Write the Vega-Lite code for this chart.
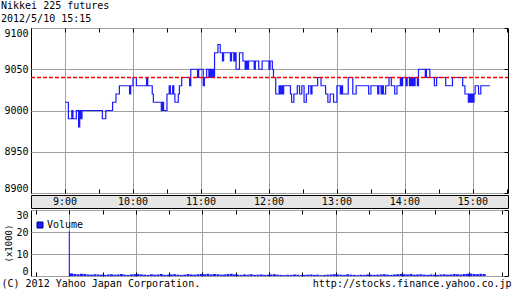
{
  "$schema": "https://vega.github.io/schema/vega-lite/v6.json",
  "padding": {"left": 0, "top": 0, "right": 0, "bottom": 0},
  "background": "white",
  "spacing": 0,
  "resolve": {"legend": {"color": "independent"}},
  "vconcat": [
    {
      "width": 477,
      "height": 165,
      "title": {"text": "Nikkei 225 futures", "subtitle": "2012/5/10 15:15", "anchor": "start", "frame": "group", "dx": -30, "offset": 4, "font": "DejaVu Sans Mono", "fontSize": 10, "fontWeight": "normal", "color": "black", "subtitleFont": "DejaVu Sans Mono", "subtitleFontSize": 10, "subtitleColor": "black", "subtitlePadding": 3},
      "view": {"stroke": "black", "fill": "white"},
      "resolve": {"axis": {"x": "independent", "y": "independent"}},
      "layer": [
        {
          "data": {"values": [
            {"t": "09:00", "p": 9010}, {"t": "09:03", "p": 8990}, {"t": "09:06", "p": 9000}, {"t": "09:07", "p": 8990}, {"t": "09:10", "p": 9000}, {"t": "09:12", "p": 8980}, {"t": "09:13", "p": 9000}, {"t": "09:14", "p": 8990}, {"t": "09:15", "p": 9000}, {"t": "09:33", "p": 8990}, {"t": "09:36", "p": 9000}, {"t": "09:42", "p": 9010}, {"t": "09:45", "p": 9020}, {"t": "09:48", "p": 9030}, {"t": "09:57", "p": 9020}, {"t": "09:58", "p": 9030},
            {"t": "10:00", "p": 9040}, {"t": "10:03", "p": 9030}, {"t": "10:12", "p": 9040}, {"t": "10:13", "p": 9030}, {"t": "10:17", "p": 9020}, {"t": "10:18", "p": 9010}, {"t": "10:25", "p": 9000}, {"t": "10:26", "p": 9010}, {"t": "10:27", "p": 9000}, {"t": "10:30", "p": 9020}, {"t": "10:32", "p": 9030}, {"t": "10:33", "p": 9020}, {"t": "10:35", "p": 9030}, {"t": "10:36", "p": 9020}, {"t": "10:37", "p": 9010}, {"t": "10:40", "p": 9020}, {"t": "10:41", "p": 9030}, {"t": "10:43", "p": 9040}, {"t": "10:50", "p": 9030}, {"t": "10:51", "p": 9050}, {"t": "10:57", "p": 9040}, {"t": "10:58", "p": 9050},
            {"t": "11:02", "p": 9030}, {"t": "11:03", "p": 9040}, {"t": "11:05", "p": 9050}, {"t": "11:07", "p": 9040}, {"t": "11:08", "p": 9050}, {"t": "11:09", "p": 9040}, {"t": "11:10", "p": 9050}, {"t": "11:11", "p": 9040}, {"t": "11:12", "p": 9070}, {"t": "11:15", "p": 9080}, {"t": "11:17", "p": 9070}, {"t": "11:19", "p": 9060}, {"t": "11:20", "p": 9070}, {"t": "11:26", "p": 9060}, {"t": "11:27", "p": 9070}, {"t": "11:29", "p": 9060}, {"t": "11:30", "p": 9070}, {"t": "11:31", "p": 9050}, {"t": "11:34", "p": 9070}, {"t": "11:37", "p": 9060}, {"t": "11:39", "p": 9050}, {"t": "11:40", "p": 9060}, {"t": "11:41", "p": 9050}, {"t": "11:42", "p": 9060}, {"t": "11:47", "p": 9050}, {"t": "11:48", "p": 9060}, {"t": "11:51", "p": 9050}, {"t": "11:54", "p": 9060},
            {"t": "12:00", "p": 9050}, {"t": "12:01", "p": 9060}, {"t": "12:03", "p": 9050}, {"t": "12:04", "p": 9040}, {"t": "12:06", "p": 9020}, {"t": "12:09", "p": 9030}, {"t": "12:10", "p": 9020}, {"t": "12:11", "p": 9030}, {"t": "12:12", "p": 9020}, {"t": "12:13", "p": 9030}, {"t": "12:19", "p": 9020}, {"t": "12:20", "p": 9010}, {"t": "12:22", "p": 9020}, {"t": "12:25", "p": 9030}, {"t": "12:27", "p": 9020}, {"t": "12:29", "p": 9030}, {"t": "12:31", "p": 9010}, {"t": "12:33", "p": 9020}, {"t": "12:35", "p": 9030}, {"t": "12:37", "p": 9020}, {"t": "12:38", "p": 9030}, {"t": "12:43", "p": 9040}, {"t": "12:46", "p": 9030}, {"t": "12:50", "p": 9020}, {"t": "12:52", "p": 9010}, {"t": "12:54", "p": 9020}, {"t": "12:57", "p": 9010},
            {"t": "13:00", "p": 9030}, {"t": "13:03", "p": 9020}, {"t": "13:04", "p": 9030}, {"t": "13:05", "p": 9020}, {"t": "13:10", "p": 9040}, {"t": "13:14", "p": 9020}, {"t": "13:17", "p": 9030}, {"t": "13:28", "p": 9020}, {"t": "13:30", "p": 9030}, {"t": "13:36", "p": 9020}, {"t": "13:37", "p": 9030}, {"t": "13:39", "p": 9020}, {"t": "13:40", "p": 9030}, {"t": "13:41", "p": 9020}, {"t": "13:43", "p": 9030}, {"t": "13:46", "p": 9040}, {"t": "13:48", "p": 9030}, {"t": "13:51", "p": 9020}, {"t": "13:53", "p": 9030}, {"t": "13:56", "p": 9040}, {"t": "13:57", "p": 9030}, {"t": "13:58", "p": 9040},
            {"t": "14:01", "p": 9030}, {"t": "14:02", "p": 9040}, {"t": "14:04", "p": 9030}, {"t": "14:05", "p": 9040}, {"t": "14:06", "p": 9030}, {"t": "14:07", "p": 9040}, {"t": "14:08", "p": 9030}, {"t": "14:09", "p": 9040}, {"t": "14:11", "p": 9030}, {"t": "14:12", "p": 9050}, {"t": "14:18", "p": 9040}, {"t": "14:19", "p": 9050}, {"t": "14:22", "p": 9040}, {"t": "14:26", "p": 9030}, {"t": "14:28", "p": 9040}, {"t": "14:36", "p": 9030}, {"t": "14:42", "p": 9040}, {"t": "14:51", "p": 9030}, {"t": "14:53", "p": 9020}, {"t": "14:56", "p": 9010}, {"t": "14:57", "p": 9020}, {"t": "14:58", "p": 9010}, {"t": "14:59", "p": 9020},
            {"t": "15:00", "p": 9010}, {"t": "15:01", "p": 9020}, {"t": "15:02", "p": 9030}, {"t": "15:05", "p": 9020}, {"t": "15:07", "p": 9030}, {"t": "15:15", "p": 9030}
          ], "format": {"parse": {"t": "utc:'%H:%M'"}}},
          "mark": {"type": "line", "interpolate": "step-after", "color": "#1a1aff", "strokeWidth": 1.2},
          "encoding": {
            "x": {"field": "t", "type": "temporal", "scale": {"type": "utc", "nice": false, "domain": [-2208958200000, -2208932940000]}, "axis": {"orient": "bottom", "title": null, "labels": false, "grid": true, "gridOpacity": {"condition": {"test": "utcminutes(datum.value) === 30", "value": 0}, "value": 1}, "domain": false, "values": [-2208958200000, -2208956400000, -2208954600000, -2208952800000, -2208951000000, -2208949200000, -2208947400000, -2208945600000, -2208943800000, -2208942000000, -2208940200000, -2208938400000, -2208936600000, -2208934800000, -2208933000000], "tickSize": -4}},
            "y": {"field": "p", "type": "quantitative", "scale": {"domain": [8900, 9100], "nice": false, "zero": false}, "axis": {"orient": "left", "title": null, "format": "d", "values": [8900, 8950, 9000, 9050, 9100], "grid": true, "ticks": false, "domain": false, "labelPadding": 3, "labelFlush": true}}
          }
        },
        {
          "data": {"values": [{"t": "08:30", "prev": 9040}, {"t": "15:31", "prev": 9040}], "format": {"parse": {"t": "utc:'%H:%M'"}}},
          "mark": {"type": "line", "stroke": "red", "color": "red", "strokeDash": [4, 2], "strokeWidth": 1.5, "opacity": 1},
          "encoding": {
            "x": {"field": "t", "type": "temporal", "scale": {"type": "utc", "nice": false, "domain": [-2208958200000, -2208932940000]}, "axis": {"orient": "top", "title": null, "labels": false, "grid": false, "domain": false, "values": [-2208958200000, -2208956400000, -2208954600000, -2208952800000, -2208951000000, -2208949200000, -2208947400000, -2208945600000, -2208943800000, -2208942000000, -2208940200000, -2208938400000, -2208936600000, -2208934800000, -2208933000000], "tickSize": -4}},
            "y": {"field": "prev", "type": "quantitative", "scale": {"domain": [8900, 9100], "nice": false, "zero": false}, "axis": {"orient": "right", "title": null, "labels": false, "grid": false, "domain": false, "values": [8900, 8950, 9000, 9050, 9100], "tickSize": -4}}
          }
        }
      ]
    },
    {
      "width": 477,
      "height": 13,
      "view": {"stroke": "black", "fill": "#e6e6e6"},
      "data": {"values": [
        {"t": "09:00", "label": "9:00"}, {"t": "10:00", "label": "10:00"}, {"t": "11:00", "label": "11:00"}, {"t": "12:00", "label": "12:00"}, {"t": "13:00", "label": "13:00"}, {"t": "14:00", "label": "14:00"}, {"t": "15:00", "label": "15:00"}
      ], "format": {"parse": {"t": "utc:'%H:%M'"}}},
      "mark": {"type": "text", "font": "DejaVu Sans Mono", "fontSize": 10, "color": "black", "baseline": "middle", "align": "center"},
      "encoding": {
        "x": {"field": "t", "type": "temporal", "scale": {"type": "utc", "nice": false, "domain": [-2208958200000, -2208932940000]}, "axis": null},
        "text": {"field": "label"}
      }
    },
    {
      "width": 477,
      "height": 66,
      "view": {"stroke": "black", "fill": "white"},
      "data": {"values": [
        {"t": "09:00", "v": 20.3},
        {"t": "09:02", "v": 1.2}, {"t": "09:05", "v": 0.9}, {"t": "09:08", "v": 0.8}, {"t": "09:11", "v": 1.0}, {"t": "09:14", "v": 0.9}, {"t": "09:17", "v": 0.7}, {"t": "09:20", "v": 0.6}, {"t": "09:23", "v": 0.8}, {"t": "09:26", "v": 0.7}, {"t": "09:29", "v": 0.6}, {"t": "09:32", "v": 0.5}, {"t": "09:35", "v": 0.7}, {"t": "09:38", "v": 0.8}, {"t": "09:41", "v": 0.6}, {"t": "09:44", "v": 0.7}, {"t": "09:47", "v": 0.9}, {"t": "09:50", "v": 0.6}, {"t": "09:53", "v": 0.5}, {"t": "09:56", "v": 0.7}, {"t": "09:59", "v": 0.8},
        {"t": "10:02", "v": 0.9}, {"t": "10:05", "v": 0.7}, {"t": "10:08", "v": 0.6}, {"t": "10:11", "v": 0.5}, {"t": "10:14", "v": 0.8}, {"t": "10:17", "v": 0.6}, {"t": "10:20", "v": 0.7}, {"t": "10:23", "v": 0.9}, {"t": "10:26", "v": 0.5}, {"t": "10:29", "v": 0.6}, {"t": "10:32", "v": 0.7}, {"t": "10:35", "v": 0.8}, {"t": "10:38", "v": 0.6}, {"t": "10:41", "v": 0.5}, {"t": "10:44", "v": 0.6}, {"t": "10:47", "v": 0.9}, {"t": "10:50", "v": 0.7}, {"t": "10:53", "v": 0.6}, {"t": "10:56", "v": 0.8}, {"t": "10:59", "v": 0.9},
        {"t": "11:02", "v": 0.8}, {"t": "11:05", "v": 1.0}, {"t": "11:08", "v": 0.7}, {"t": "11:11", "v": 0.9}, {"t": "11:14", "v": 0.8}, {"t": "11:17", "v": 0.6}, {"t": "11:20", "v": 0.7}, {"t": "11:23", "v": 0.9}, {"t": "11:26", "v": 1.0}, {"t": "11:29", "v": 0.7}, {"t": "11:32", "v": 0.6}, {"t": "11:35", "v": 0.5}, {"t": "11:38", "v": 0.7}, {"t": "11:41", "v": 0.6}, {"t": "11:44", "v": 0.8}, {"t": "11:47", "v": 0.5}, {"t": "11:50", "v": 0.6}, {"t": "11:53", "v": 0.7}, {"t": "11:56", "v": 0.5}, {"t": "11:59", "v": 0.6},
        {"t": "12:02", "v": 0.7}, {"t": "12:05", "v": 0.8}, {"t": "12:08", "v": 0.6}, {"t": "12:11", "v": 0.5}, {"t": "12:14", "v": 0.4}, {"t": "12:17", "v": 0.6}, {"t": "12:20", "v": 0.5}, {"t": "12:23", "v": 0.7}, {"t": "12:26", "v": 0.6}, {"t": "12:29", "v": 0.4}, {"t": "12:32", "v": 0.5}, {"t": "12:35", "v": 0.6}, {"t": "12:38", "v": 0.7}, {"t": "12:41", "v": 0.5}, {"t": "12:44", "v": 0.6}, {"t": "12:47", "v": 0.4}, {"t": "12:50", "v": 0.5}, {"t": "12:53", "v": 0.6}, {"t": "12:56", "v": 0.7}, {"t": "12:59", "v": 0.8},
        {"t": "13:02", "v": 0.7}, {"t": "13:05", "v": 0.6}, {"t": "13:08", "v": 0.5}, {"t": "13:11", "v": 0.8}, {"t": "13:14", "v": 0.6}, {"t": "13:17", "v": 0.5}, {"t": "13:20", "v": 0.4}, {"t": "13:23", "v": 0.6}, {"t": "13:26", "v": 0.5}, {"t": "13:29", "v": 0.7}, {"t": "13:32", "v": 0.6}, {"t": "13:35", "v": 0.5}, {"t": "13:38", "v": 0.6}, {"t": "13:41", "v": 0.7}, {"t": "13:44", "v": 0.8}, {"t": "13:47", "v": 0.6}, {"t": "13:50", "v": 0.5}, {"t": "13:53", "v": 0.7}, {"t": "13:56", "v": 0.8}, {"t": "13:59", "v": 0.9},
        {"t": "14:02", "v": 0.8}, {"t": "14:05", "v": 0.7}, {"t": "14:08", "v": 0.9}, {"t": "14:11", "v": 0.6}, {"t": "14:14", "v": 0.7}, {"t": "14:17", "v": 0.8}, {"t": "14:20", "v": 0.6}, {"t": "14:23", "v": 0.5}, {"t": "14:26", "v": 0.7}, {"t": "14:29", "v": 0.6}, {"t": "14:32", "v": 0.5}, {"t": "14:35", "v": 0.7}, {"t": "14:38", "v": 0.8}, {"t": "14:41", "v": 0.6}, {"t": "14:44", "v": 0.7}, {"t": "14:47", "v": 0.9}, {"t": "14:50", "v": 0.8}, {"t": "14:53", "v": 0.7}, {"t": "14:56", "v": 0.9}, {"t": "14:59", "v": 1.0},
        {"t": "15:02", "v": 1.1}, {"t": "15:05", "v": 0.9}, {"t": "15:08", "v": 0.8}, {"t": "15:11", "v": 1.0}, {"t": "15:14", "v": 0.9}
      ], "format": {"parse": {"t": "utc:'%H:%M'"}}},
      "resolve": {"axis": {"x": "independent", "y": "independent"}},
      "layer": [
        {
          "transform": [{"filter": "datum.v < 5"}],
          "mark": {"type": "bar", "width": 3},
          "encoding": {
            "x": {"field": "t", "type": "temporal", "scale": {"type": "utc", "nice": false, "domain": [-2208958200000, -2208932940000]}, "axis": {"orient": "bottom", "title": "(C) 2012 Yahoo Japan Corporation.", "titleX": -30, "titleY": 10, "titleAlign": "left", "titleBaseline": "alphabetic", "labels": false, "grid": true, "gridOpacity": {"condition": {"test": "utcminutes(datum.value) === 30", "value": 0}, "value": 1}, "domain": false, "values": [-2208958200000, -2208956400000, -2208954600000, -2208952800000, -2208951000000, -2208949200000, -2208947400000, -2208945600000, -2208943800000, -2208942000000, -2208940200000, -2208938400000, -2208936600000, -2208934800000, -2208933000000], "tickSize": -4}},
            "y": {"field": "v", "type": "quantitative", "scale": {"domain": [0, 30], "nice": false}, "axis": {"orient": "left", "title": "(x1000)", "titleFontSize": 9, "titleX": -23, "titleY": 33, "titleAngle": -90, "titleAlign": "center", "titleBaseline": "middle", "values": [0, 10, 20, 30], "grid": true, "ticks": false, "domain": false, "labelPadding": 3, "labelFlush": true}},
            "color": {"datum": "Volume", "scale": {"range": ["#1a1aff"]}, "legend": {"orient": "none", "legendX": 4, "legendY": 10, "title": null, "symbolType": "square", "symbolSize": 36, "symbolStrokeColor": "#000080", "symbolStrokeWidth": 1, "labelFont": "DejaVu Sans Mono", "labelFontSize": 10, "labelColor": "black", "labelOffset": 2, "padding": 0}}
          }
        },
        {
          "transform": [{"filter": "datum.v >= 5"}],
          "mark": {"type": "bar", "width": 1},
          "encoding": {
            "x": {"field": "t", "type": "temporal", "scale": {"type": "utc", "nice": false, "domain": [-2208958200000, -2208932940000]}, "axis": {"orient": "top", "title": "http://stocks.finance.yahoo.co.jp", "titleX": 480, "titleY": 76, "titleAlign": "right", "titleBaseline": "alphabetic", "labels": false, "grid": false, "domain": false, "values": [-2208958200000, -2208956400000, -2208954600000, -2208952800000, -2208951000000, -2208949200000, -2208947400000, -2208945600000, -2208943800000, -2208942000000, -2208940200000, -2208938400000, -2208936600000, -2208934800000, -2208933000000], "tickSize": -4}},
            "y": {"field": "v", "type": "quantitative", "scale": {"domain": [0, 30], "nice": false}, "axis": {"orient": "right", "title": null, "labels": false, "grid": false, "domain": false, "values": [0, 10, 20, 30], "tickSize": -4}},
            "color": {"datum": "Volume"}
          }
        }
      ]
    }
  ],
  "config": {
    "font": "DejaVu Sans Mono",
    "axis": {"labelFont": "DejaVu Sans Mono", "labelFontSize": 10, "labelColor": "black", "titleFont": "DejaVu Sans Mono", "titleFontSize": 10, "titleFontWeight": "normal", "titleColor": "black", "gridColor": "#a0a0a0", "gridWidth": 1, "tickColor": "black", "tickWidth": 1},
    "view": {"stroke": "black"}
  }
}
